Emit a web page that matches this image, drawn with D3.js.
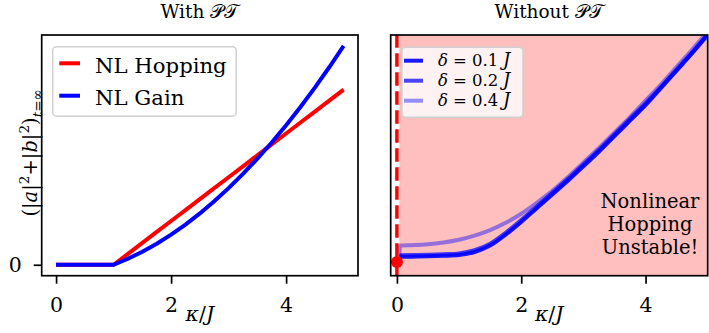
<!DOCTYPE html>
<html>
<head>
<meta charset="utf-8">
<script src="https://cdn.jsdelivr.net/npm/d3@7"></script>
<style>
  html, body { margin: 0; padding: 0; background: #fff; }
  svg { display: block; font-family: "DejaVu Serif", serif; }
</style>
</head>
<body>
<div id="chart"></div>
<script>
// left panel: with PT
const kappaLeft = [0, 0.5, 1, 1.25, 1.5, 1.75, 2, 2.25, 2.5, 2.75, 3, 3.25, 3.5, 3.75, 4, 4.25, 4.5, 4.75, 5];
const nlHopping = [0, 0, 0, 1.2, 2.4, 3.6, 4.8, 6.0, 7.2, 8.4, 9.6, 10.8, 12.0, 13.2, 14.4, 15.6, 16.8, 18.0, 19.2];
const nlGain = [0, 0, 0, 0.66, 1.43, 2.31, 3.3, 4.41, 5.63, 6.96, 8.4, 9.96, 11.63, 13.41, 15.3, 17.31, 19.43, 21.66, 24];
const leftLabels = ['NL Hopping', 'NL Gain'];

// right panel: without PT
const kappaRight = [0.04, 0.25, 0.5, 0.75, 1, 1.25, 1.5, 1.75, 2, 2.25, 2.5, 2.75, 3, 3.25, 3.5, 3.75, 4, 4.25, 4.5, 4.75, 5];
const delta01 = [0.88, 0.89, 0.92, 0.98, 1.07, 1.4, 2.1, 3.3, 4.7, 6.2, 7.7, 9.2, 10.8, 12.4, 14.1, 15.8, 17.5, 19.4, 21.3, 23.2, 25.2];
const delta02 = [1.05, 1.06, 1.09, 1.15, 1.25, 1.6, 2.3, 3.5, 4.9, 6.4, 7.9, 9.4, 11.0, 12.6, 14.3, 16.0, 17.7, 19.5, 21.4, 23.3, 25.3];
const kappaRight04 = [0.04, 0.05, 0.25, 0.5, 0.75, 1, 1.25, 1.5, 1.75, 2, 2.25, 2.5, 2.75, 3, 3.25, 3.5, 3.75, 4, 4.25, 4.5, 4.75, 5];
const delta04 = [0.95, 2.1, 2.15, 2.25, 2.45, 2.75, 3.2, 3.8, 4.6, 5.6, 6.8, 8.1, 9.6, 11.2, 12.8, 14.5, 16.2, 18.0, 19.8, 21.7, 23.6, 25.6];
const deltaLabels = ['0.1', '0.2', '0.4'];
const deltaAlpha = [0.9, 0.72, 0.42];
const unstablePoint = [0, 0.3];
const shadeStart = 0.04;

const xTicks = [0, 2, 4];
const yTicks = [0];

const width = 709, height = 333;
const plotTop = 35, plotBottom = 275.7;
const fs = 20.5;

const svg = d3.select('#chart').append('svg')
  .attr('width', width)
  .attr('height', height);

const y = d3.scaleLinear().domain([-1.2, 25.2]).range([plotBottom, plotTop]);
const xL = d3.scaleLinear().domain([-0.25, 5.25]).range([41.7, 358]);
const xR = d3.scaleLinear().domain([-0.1, 5.0]).range([390.7, 707.7]);

const defs = svg.append('defs');
defs.append('clipPath').attr('id', 'clipR')
  .append('rect').attr('x', 390.7).attr('y', plotTop).attr('width', 707.7 - 390.7).attr('height', plotBottom - plotTop);
defs.append('clipPath').attr('id', 'clipL')
  .append('rect').attr('x', 41.7).attr('y', plotTop).attr('width', 358 - 41.7).attr('height', plotBottom - plotTop);

function line(x, xs, ys, curve) {
  return d3.line()
    .x((d, i) => x(xs[i]))
    .y(d => y(d))
    .curve(curve)(ys);
}

function frame(x) {
  const [x0, x1] = x.range();
  svg.append('rect')
    .attr('x', x0).attr('y', plotTop)
    .attr('width', x1 - x0).attr('height', plotBottom - plotTop)
    .attr('fill', 'none').attr('stroke', '#000').attr('stroke-width', 1.7);
  const ax = svg.append('g').attr('transform', `translate(0,${plotBottom})`)
    .call(d3.axisBottom(x).tickValues(xTicks).tickSize(8).tickPadding(14).tickFormat(d3.format('d')));
  ax.select('.domain').remove();
  ax.selectAll('line').attr('stroke-width', 1.7);
  ax.selectAll('text').attr('font-size', fs).attr('font-family', 'DejaVu Serif').attr('fill', '#000');
  // x label
  const t = svg.append('text')
    .attr('x', (x0 + x1) / 2).attr('y', 321)
    .attr('text-anchor', 'middle').attr('font-size', fs);
  t.append('tspan').attr('font-style', 'italic').text('κ');
  t.append('tspan').text('/');
  t.append('tspan').attr('font-style', 'italic').text('J');
}

function title(x, word) {
  const [x0, x1] = x.range();
  const t = svg.append('text')
    .attr('x', (x0 + x1) / 2).attr('y', 18)
    .attr('text-anchor', 'middle').attr('font-size', 18.5);
  t.append('tspan').text(word + ' ');
  t.append('tspan').text('𝒫𝒯');
}

// ---- left panel
const gL = svg.append('g').attr('clip-path', 'url(#clipL)');
gL.append('path').attr('d', line(xL, kappaLeft, nlHopping, d3.curveLinear))
  .attr('fill', 'none').attr('stroke', 'red').attr('stroke-width', 4);
gL.append('path').attr('d', line(xL, kappaLeft, nlGain, d3.curveLinear))
  .attr('fill', 'none').attr('stroke', 'blue').attr('stroke-width', 4);
frame(xL);
title(xL, 'With');

const yAx = svg.append('g').attr('transform', 'translate(41.7,0)')
  .call(d3.axisLeft(y).tickValues(yTicks).tickSize(8).tickPadding(12).tickFormat(d3.format('d')));
yAx.select('.domain').remove();
yAx.selectAll('line').attr('stroke-width', 1.7);
yAx.selectAll('text').attr('font-size', fs).attr('font-family', 'DejaVu Serif').attr('fill', '#000');

// y label
const yl = svg.append('text')
  .attr('transform', `translate(36.5,${(plotTop + plotBottom) / 2 - 2.5}) rotate(-90)`)
  .attr('text-anchor', 'middle').attr('font-size', 19.5);
yl.append('tspan').text('(|');
yl.append('tspan').attr('font-style', 'italic').text('a');
yl.append('tspan').text('|');
yl.append('tspan').attr('font-size', 13.6).attr('dy', -7.7).text('2');
yl.append('tspan').attr('dy', 7.7).text('+|');
yl.append('tspan').attr('font-style', 'italic').text('b');
yl.append('tspan').text('|');
yl.append('tspan').attr('font-size', 13.6).attr('dy', -7.7).text('2');
yl.append('tspan').attr('dy', 7.7).text(')');
yl.append('tspan').attr('font-size', 13.6).attr('dy', 5).attr('font-style', 'italic').text('t');
yl.append('tspan').attr('font-size', 13.6).text('=∞');

// left legend
const lgL = svg.append('g');
lgL.append('rect').attr('x', 52.7).attr('y', 46.7).attr('width', 183.5).attr('height', 69.5)
  .attr('rx', 4).attr('fill', '#fff').attr('fill-opacity', 0.8).attr('stroke', '#d0d0d0').attr('stroke-width', 1.5);
['red', 'blue'].forEach((c, i) => {
  const yy = 63.3 + i * 32.4;
  lgL.append('line').attr('x1', 59.3).attr('x2', 80).attr('y1', yy).attr('y2', yy)
    .attr('stroke', c).attr('stroke-width', 4);
  lgL.append('text').attr('x', 95).attr('y', yy + 9.5).attr('font-size', 21.2).text(leftLabels[i]);
});

// ---- right panel
svg.append('rect')
  .attr('x', xR(shadeStart)).attr('y', plotTop)
  .attr('width', xR.range()[1] - xR(shadeStart)).attr('height', plotBottom - plotTop)
  .attr('fill', '#ffbfbf');

const gR = svg.append('g').attr('clip-path', 'url(#clipR)');
const series = [[kappaRight, delta01], [kappaRight, delta02], [kappaRight04, delta04]];
series.forEach(([xs, ys], i) => {
  gR.append('path').attr('d', line(xR, xs, ys, d3.curveMonotoneX))
    .attr('fill', 'none').attr('stroke', 'blue').attr('stroke-opacity', deltaAlpha[i]).attr('stroke-width', 4);
});
gR.append('line')
  .attr('x1', xR(0)).attr('x2', xR(0)).attr('y1', plotBottom).attr('y2', plotTop)
  .attr('stroke', 'red').attr('stroke-width', 3.5).attr('stroke-dasharray', '13.5,5.5');
gR.append('circle').attr('cx', xR(unstablePoint[0])).attr('cy', y(unstablePoint[1])).attr('r', 6).attr('fill', 'red');

frame(xR);
title(xR, 'Without');

const note = svg.append('text').attr('text-anchor', 'middle').attr('font-size', 19.5);
['Nonlinear', 'Hopping', 'Unstable!'].forEach((s, i) => {
  note.append('tspan').attr('x', 650).attr('y', 207.7 + i * 23.2).text(s);
});

// right legend
const lgR = svg.append('g');
lgR.append('rect').attr('x', 402).attr('y', 47.3).attr('width', 121).attr('height', 70)
  .attr('rx', 4).attr('fill', '#fff').attr('fill-opacity', 0.8).attr('stroke', '#d0d0d0').attr('stroke-width', 1.5);
deltaLabels.forEach((lab, i) => {
  const yy = 60.7 + i * 20;
  lgR.append('line').attr('x1', 404).attr('x2', 423).attr('y1', yy).attr('y2', yy)
    .attr('stroke', 'blue').attr('stroke-opacity', deltaAlpha[i]).attr('stroke-width', 4);
  const t = lgR.append('text').attr('y', yy + 5.5).attr('font-size', 16.5);
  t.append('tspan').attr('x', 438).attr('font-style', 'italic').text('δ');
  t.append('tspan').attr('x', 453).text('=');
  t.append('tspan').attr('x', 472).text(lab);
  t.append('tspan').attr('x', 503).attr('font-style', 'italic').attr('font-size', 18).text('J');
});
</script>
</body>
</html>
